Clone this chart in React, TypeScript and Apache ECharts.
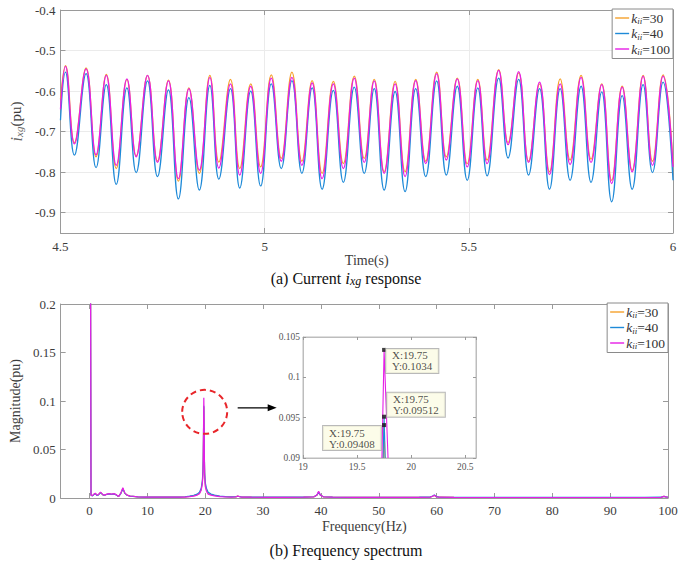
import React, { useEffect, useRef } from 'react';
import * as echarts from 'echarts';

const SERIF = '"Liberation Serif", "Times New Roman", serif';
const AXIS_GRAY = '#9a9a9a';
const LABEL_GRAY = '#3c3c3c';

// Series identities (integral gain k_ii)
const seriesNames = ['k30', 'k40', 'k100'];
const gainValues = ['30', '40', '100'];
const seriesColors = ['#F5A12C', '#1E8AD8', '#E61EE6'];

// (a) Current response: sample instants at the start, every crest / trough, and the end
const sampleTime = [
  4.5, 4.5122, 4.5341, 4.5627, 4.5871, 4.6122, 4.6366, 4.6627, 4.6854, 4.7132, 4.7376,
  4.7644, 4.7888, 4.8146, 4.84, 4.8659, 4.8878, 4.9163, 4.939, 4.9659, 4.9902,
  5.0163, 5.0407, 5.0668, 5.0912, 5.1163, 5.1407, 5.1683, 5.1927, 5.2195, 5.2439,
  5.2683, 5.2927, 5.3195, 5.3439, 5.37, 5.3944, 5.4212, 5.4449, 5.4717, 5.4961,
  5.522, 5.5449, 5.5732, 5.5961, 5.622, 5.6463, 5.6732, 5.6976, 5.7237, 5.748,
  5.7749, 5.7993, 5.8254, 5.8498, 5.8756, 5.9, 5.9268, 5.9498, 5.9756, 6.0,
];
const currentK30 = [
  -0.62, -0.537, -0.727, -0.543, -0.762, -0.559, -0.791, -0.571, -0.76, -0.561, -0.773,
  -0.573, -0.822, -0.592, -0.803, -0.561, -0.775, -0.571, -0.791, -0.582, -0.787,
  -0.56, -0.766, -0.553, -0.773, -0.574, -0.803, -0.576, -0.779, -0.563, -0.766,
  -0.571, -0.799, -0.576, -0.799, -0.571, -0.773, -0.553, -0.762, -0.568, -0.779,
  -0.571, -0.77, -0.547, -0.727, -0.555, -0.773, -0.582, -0.799, -0.57, -0.77,
  -0.561, -0.768, -0.582, -0.82, -0.588, -0.795, -0.561, -0.773, -0.56, -0.78,
];
const currentK40 = [
  -0.672, -0.553, -0.758, -0.557, -0.789, -0.584, -0.83, -0.592, -0.801, -0.575, -0.811,
  -0.597, -0.866, -0.616, -0.844, -0.586, -0.817, -0.594, -0.839, -0.6, -0.834,
  -0.582, -0.791, -0.574, -0.803, -0.592, -0.842, -0.598, -0.825, -0.59, -0.803,
  -0.594, -0.844, -0.601, -0.848, -0.594, -0.811, -0.575, -0.807, -0.588, -0.82,
  -0.592, -0.809, -0.568, -0.765, -0.571, -0.807, -0.594, -0.842, -0.594, -0.82,
  -0.588, -0.825, -0.602, -0.873, -0.611, -0.842, -0.584, -0.801, -0.578, -0.82,
];
const currentK100 = [
  -0.645, -0.539, -0.73, -0.545, -0.757, -0.561, -0.783, -0.57, -0.762, -0.561, -0.776,
  -0.575, -0.816, -0.594, -0.795, -0.566, -0.79, -0.582, -0.807, -0.588, -0.803,
  -0.568, -0.773, -0.566, -0.783, -0.58, -0.816, -0.582, -0.791, -0.568, -0.776,
  -0.575, -0.803, -0.582, -0.811, -0.574, -0.779, -0.557, -0.77, -0.57, -0.787,
  -0.574, -0.779, -0.549, -0.732, -0.552, -0.776, -0.578, -0.806, -0.582, -0.781,
  -0.566, -0.776, -0.584, -0.828, -0.59, -0.799, -0.563, -0.783, -0.563, -0.787,
];

// (b) Frequency spectrum
const freqHz = [
  0, 0.25, 0.5, 0.75, 1.0, 1.25, 1.5, 1.9, 2.3, 2.6, 3.0, 3.4, 3.8, 4.2, 4.6, 5.0, 5.4, 5.75, 6.1, 6.5,
  7.0, 7.5, 8.3, 9.5, 11, 12.5, 14, 15.5, 16.5, 17.3, 18.0, 18.6, 19.0, 19.3, 19.5, 19.6, 19.65, 19.7,
  19.75, 19.8, 19.85, 19.9, 20.0, 20.2, 20.5, 21.0, 21.6, 22.5, 23.5, 24.5, 25.3, 25.6, 26.2, 28, 31,
  34, 37, 38.8, 39.3, 39.6, 39.9, 40.4, 42, 46, 50, 54, 57, 58.9, 59.3, 59.6, 59.9, 60.4, 63, 67, 72,
  77, 82, 87, 92, 96, 98.8, 99.3, 99.6, 100,
];
const magK30 = [
  0.7, 0.0029, 0.0024, 0.0037, 0.0047, 0.0029, 0.0032, 0.0057, 0.0033, 0.0029, 0.0039, 0.0043, 0.0039, 0.0043, 0.0033, 0.0015, 0.0047, 0.0098, 0.0049, 0.0029,
  0.002, 0.0017, 0.0012, 0.0009, 0.0008, 0.0008, 0.0009, 0.0009, 0.0011, 0.0017, 0.0024, 0.0034, 0.005, 0.0088, 0.016, 0.026, 0.04, 0.066,
  0.09408, 0.068, 0.04, 0.024, 0.014, 0.0085, 0.005, 0.0035, 0.0026, 0.0018, 0.0013, 0.0011, 0.0012, 0.0019, 0.001, 0.0008, 0.0007,
  0.0007, 0.0008, 0.0012, 0.0028, 0.006, 0.0028, 0.0012, 0.0008, 0.0006, 0.0006, 0.0006, 0.0007, 0.0009, 0.0018, 0.0027, 0.0015, 0.0008, 0.0006, 0.0005, 0.0005,
  0.0005, 0.0005, 0.0005, 0.0005, 0.0005, 0.0007, 0.0017, 0.0012, 0.0008,
];
const magK40 = [
  0.7, 0.0028, 0.0022, 0.0035, 0.0045, 0.0028, 0.003, 0.0055, 0.0032, 0.0028, 0.0038, 0.0042, 0.0038, 0.0042, 0.0032, 0.0014, 0.0045, 0.0095, 0.0048, 0.0028,
  0.002, 0.0017, 0.0012, 0.001, 0.0009, 0.0009, 0.001, 0.001, 0.0013, 0.002, 0.0028, 0.004, 0.006, 0.01, 0.018, 0.028, 0.042, 0.068,
  0.09512, 0.07, 0.042, 0.026, 0.016, 0.01, 0.006, 0.004, 0.003, 0.002, 0.0015, 0.0012, 0.0013, 0.0018, 0.0011, 0.0009, 0.0008,
  0.0008, 0.0009, 0.0013, 0.003, 0.006, 0.003, 0.0013, 0.0009, 0.0007, 0.0007, 0.0007, 0.0008, 0.001, 0.002, 0.003, 0.0017, 0.0009, 0.0007, 0.0006, 0.0006,
  0.0006, 0.0006, 0.0006, 0.0006, 0.0006, 0.0008, 0.0016, 0.0012, 0.0008,
];
const magK100 = [
  0.7, 0.003, 0.0025, 0.004, 0.005, 0.003, 0.0035, 0.006, 0.0035, 0.003, 0.004, 0.0045, 0.004, 0.0045, 0.0035, 0.0015, 0.005, 0.0105, 0.005, 0.003,
  0.002, 0.0018, 0.0012, 0.0009, 0.0008, 0.0008, 0.0009, 0.0008, 0.001, 0.0015, 0.002, 0.003, 0.0045, 0.008, 0.015, 0.025, 0.04, 0.07,
  0.1034, 0.085, 0.04, 0.022, 0.012, 0.007, 0.004, 0.003, 0.0022, 0.0015, 0.0012, 0.001, 0.0012, 0.002, 0.001, 0.0008, 0.0007,
  0.0007, 0.0008, 0.0012, 0.003, 0.007, 0.003, 0.0012, 0.0008, 0.0006, 0.0006, 0.0006, 0.0007, 0.0009, 0.0018, 0.0028, 0.0015, 0.0008, 0.0006, 0.0005, 0.0005,
  0.0005, 0.0005, 0.0005, 0.0005, 0.0005, 0.0007, 0.0018, 0.0012, 0.0008,
];

// Frequency marked by the data tips in the zoomed view
const markedFreq = 19.75;

const currentSets = [currentK30, currentK40, currentK100];
const magSets = [magK30, magK40, magK100];

const tickStyle = (len: number) => ({ show: true, inside: true, length: len, lineStyle: { color: AXIS_GRAY } });
const axisLine = { show: true, onZero: false, lineStyle: { color: AXIS_GRAY, width: 1 } };
const labelStyle = (size: number, margin: number, extra: object = {}) => ({
  color: LABEL_GRAY, fontSize: size, fontFamily: SERIF, margin, ...extra,
});

function legendFor(right: number, top: number) {
  return {
    data: seriesNames,
    orient: 'vertical',
    right,
    top,
    icon: 'rect',
    itemWidth: 14,
    itemHeight: 1.4,
    itemGap: 1,
    padding: [2, 3, 2, 3],
    backgroundColor: '#ffffff',
    borderColor: '#8a8a8a',
    borderWidth: 1,
    borderRadius: 0,
    selectedMode: false,
    formatter: (name: string) => `{k|k}{s|ii}{t|=${gainValues[seriesNames.indexOf(name)]}}`,
    textStyle: {
      padding: [0, 0, 0, -3],
      rich: {
        k: { fontFamily: SERIF, fontStyle: 'italic', fontSize: 13.5, lineHeight: 15, color: '#333' },
        s: { fontFamily: SERIF, fontStyle: 'italic', fontSize: 9, lineHeight: 9, verticalAlign: 'bottom', color: '#333' },
        t: { fontFamily: SERIF, fontSize: 13.5, lineHeight: 15, color: '#333' },
      },
    },
  };
}

function buildOption() {
  const peakIdx = freqHz.indexOf(markedFreq);
  const tipPoints = magSets.map((m) => [freqHz[peakIdx], m[peakIdx]]);
  // label offsets per data tip: [k30, k40, k100]
  const tipOffsets = [[-59, 3], [5, -22], [4, 1]];

  const series: any[] = [];
  seriesNames.forEach((name, i) => {
    series.push({
      name,
      type: 'line',
      xAxisIndex: 0,
      yAxisIndex: 0,
      data: sampleTime.map((t, j) => [t, currentSets[i][j]]),
      smooth: 0.45,
      symbol: 'none',
      lineStyle: { color: seriesColors[i], width: 1.3 },
      itemStyle: { color: seriesColors[i] },
    });
  });
  seriesNames.forEach((name, i) => {
    series.push({
      name,
      type: 'line',
      xAxisIndex: 2,
      yAxisIndex: 2,
      data: freqHz.map((f, j) => [f, magSets[i][j]]),
      symbol: 'none',
      lineStyle: { color: seriesColors[i], width: 1.2 },
      itemStyle: { color: seriesColors[i] },
    });
  });
  seriesNames.forEach((name, i) => {
    series.push({
      name,
      type: 'line',
      xAxisIndex: 4,
      yAxisIndex: 4,
      data: freqHz.map((f, j) => [f, magSets[i][j]]),
      symbol: 'none',
      clip: true,
      lineStyle: { color: seriesColors[i], width: 1.1 },
      itemStyle: { color: seriesColors[i] },
    });
  });
  series.push({
    name: 'datatip',
    type: 'scatter',
    xAxisIndex: 4,
    yAxisIndex: 4,
    symbol: 'rect',
    symbolSize: 4,
    z: 10,
    itemStyle: { color: '#111' },
    data: tipPoints.map((p, i) => ({
      value: p,
      label: {
        show: true,
        position: tipOffsets[i],
        align: 'left',
        verticalAlign: 'top',
        formatter: () => `X:${p[0]}\nY:${p[1]}`,
        fontFamily: SERIF,
        fontSize: 11,
        lineHeight: 11,
        color: '#222',
        backgroundColor: '#FBFBE3',
        borderColor: '#a8a8a8',
        borderWidth: 1,
        padding: [1, 6, 1, 6],
      },
    })),
  });

  return {
    animation: false,
    backgroundColor: '#ffffff',
    textStyle: { fontFamily: SERIF },
    legend: [legendFor(19, 9), legendFor(24, 303)],
    grid: [
      { left: 58, top: 10, width: 615, height: 223, show: true, borderColor: AXIS_GRAY, borderWidth: 0 },
      { left: 55, top: 304, width: 613, height: 194, show: true, borderColor: AXIS_GRAY, borderWidth: 0 },
      { left: 303, top: 337, width: 173, height: 121, show: true, backgroundColor: '#ffffff', borderColor: '#bdbdbd', borderWidth: 1, z: 3 },
    ],
    xAxis: [
      {
        type: 'value', gridIndex: 0, position: 'bottom', min: 4.5, max: 6, interval: 0.5,
        axisLine, axisTick: tickStyle(5), axisLabel: labelStyle(13, 7),
        splitLine: { show: true, lineStyle: { color: '#ebebeb' } },
        name: 'Time(s)', nameLocation: 'middle', nameGap: 17,
        nameTextStyle: { color: LABEL_GRAY, fontSize: 14, fontFamily: SERIF },
      },
      {
        type: 'value', gridIndex: 0, position: 'top', min: 4.5, max: 6, interval: 0.5,
        axisLine, axisTick: tickStyle(5), axisLabel: { show: false }, splitLine: { show: false },
      },
      {
        type: 'value', gridIndex: 1, position: 'bottom', min: -5, max: 100, minInterval: 10, maxInterval: 10,
        axisLine, axisTick: tickStyle(5), axisLabel: labelStyle(13, 6, { showMinLabel: false }),
        splitLine: { show: false },
        name: 'Frequency(Hz)', nameLocation: 'middle', nameGap: 21,
        nameTextStyle: { color: LABEL_GRAY, fontSize: 14, fontFamily: SERIF },
      },
      {
        type: 'value', gridIndex: 1, position: 'top', min: -5, max: 100, minInterval: 10, maxInterval: 10,
        axisLine, axisTick: tickStyle(5), axisLabel: { show: false }, splitLine: { show: false },
      },
      {
        type: 'value', gridIndex: 2, position: 'bottom', min: 19, max: 20.6, minInterval: 0.5, maxInterval: 0.5,
        axisLine: { show: true, onZero: false, lineStyle: { color: '#bdbdbd' } },
        axisTick: tickStyle(3), axisLabel: labelStyle(9.5, 4, { showMaxLabel: false, color: '#555' }),
        splitLine: { show: false }, z: 4,
      },
      {
        type: 'value', gridIndex: 2, position: 'top', min: 19, max: 20.6, minInterval: 0.5, maxInterval: 0.5,
        axisLine: { show: true, onZero: false, lineStyle: { color: '#bdbdbd' } },
        axisTick: tickStyle(3), axisLabel: { show: false }, splitLine: { show: false }, z: 4,
      },
    ],
    yAxis: [
      {
        type: 'value', gridIndex: 0, position: 'left', min: -0.95, max: -0.4, minInterval: 0.1, maxInterval: 0.1,
        axisLine, axisTick: tickStyle(5), axisLabel: labelStyle(13, 5, { showMinLabel: false }),
        splitLine: { show: true, lineStyle: { color: '#ebebeb' } },
        name: '{i|i}{s|xg}{p|(pu)}', nameLocation: 'middle', nameGap: 32,
        nameTextStyle: {
          color: LABEL_GRAY,
          fontSize: 14,
          fontFamily: SERIF,
          rich: {
            i: { fontFamily: SERIF, fontStyle: 'italic', fontSize: 16, lineHeight: 16, color: '#666' },
            s: { fontFamily: SERIF, fontStyle: 'italic', fontSize: 11, lineHeight: 11, verticalAlign: 'bottom', color: '#666' },
            p: { fontFamily: SERIF, fontSize: 15, lineHeight: 16, color: LABEL_GRAY },
          },
        },
      },
      {
        type: 'value', gridIndex: 0, position: 'right', min: -0.95, max: -0.4, minInterval: 0.1, maxInterval: 0.1,
        axisLine, axisTick: tickStyle(5), axisLabel: { show: false }, splitLine: { show: false },
      },
      {
        type: 'value', gridIndex: 1, position: 'left', min: 0, max: 0.2, interval: 0.05,
        axisLine, axisTick: tickStyle(5), axisLabel: labelStyle(13, 5),
        splitLine: { show: false },
        name: 'Magnitude(pu)', nameLocation: 'middle', nameGap: 31,
        nameTextStyle: { color: LABEL_GRAY, fontSize: 14, fontFamily: SERIF },
      },
      {
        type: 'value', gridIndex: 1, position: 'right', min: 0, max: 0.2, interval: 0.05,
        axisLine, axisTick: tickStyle(5), axisLabel: { show: false }, splitLine: { show: false },
      },
      {
        type: 'value', gridIndex: 2, position: 'left', min: 0.09, max: 0.105, interval: 0.005,
        axisLine: { show: true, onZero: false, lineStyle: { color: '#bdbdbd' } },
        axisTick: tickStyle(3), axisLabel: labelStyle(9.5, 3, { color: '#555' }),
        splitLine: { show: false }, z: 4,
      },
      {
        type: 'value', gridIndex: 2, position: 'right', min: 0.09, max: 0.105, interval: 0.005,
        axisLine: { show: true, onZero: false, lineStyle: { color: '#bdbdbd' } },
        axisTick: tickStyle(3), axisLabel: { show: false }, splitLine: { show: false }, z: 4,
      },
    ],
    series,
  };
}

export default function App() {
  const ref = useRef<HTMLDivElement>(null);

  useEffect(() => {
    if (!ref.current) return;
    const chart = echarts.init(ref.current, undefined, { renderer: 'svg' });
    chart.setOption(buildOption() as any);

    // Highlight ring around the 19.75 Hz peak and the arrow pointing to the zoomed view
    const c = chart.convertToPixel({ xAxisIndex: 2, yAxisIndex: 2 } as any, [19.9, 0.0888]) as number[];
    const cx = c[0];
    const cy = c[1];
    const arrowY = cy - 4;
    chart.setOption({
      graphic: [
        {
          type: 'ellipse',
          shape: { cx, cy, rx: 22.5, ry: 22 },
          style: { fill: 'none', stroke: '#E8262A', lineWidth: 2, lineDash: [6, 4] },
          z: 20,
        },
        {
          type: 'line',
          shape: { x1: cx + 33, y1: arrowY, x2: cx + 66, y2: arrowY },
          style: { stroke: '#000', lineWidth: 1.2 },
          z: 20,
        },
        {
          type: 'polygon',
          shape: { points: [[cx + 72, arrowY], [cx + 63, arrowY - 3.5], [cx + 63, arrowY + 3.5]] },
          style: { fill: '#000' },
          z: 20,
        },
        {
          type: 'text',
          x: 346,
          y: 278,
          z: 20,
          style: {
            text: '(a) Current {i|i}{s|xg} response',
            align: 'center',
            verticalAlign: 'middle',
            fontFamily: SERIF,
            fontSize: 16,
            fill: '#111',
            rich: {
              i: { fontFamily: SERIF, fontStyle: 'italic', fontSize: 17, lineHeight: 17, fill: '#111' },
              s: { fontFamily: SERIF, fontStyle: 'italic', fontSize: 12, lineHeight: 12, verticalAlign: 'bottom', fill: '#111' },
            },
          },
        },
        {
          type: 'text',
          x: 346,
          y: 550,
          z: 20,
          style: {
            text: '(b) Frequency spectrum',
            align: 'center',
            verticalAlign: 'middle',
            fontFamily: SERIF,
            fontSize: 16,
            fill: '#111',
          },
        },
      ],
    } as any);

    return () => chart.dispose();
  }, []);

  return (
    <div
      ref={ref}
      style={{ position: 'absolute', left: 0, top: 0, width: 692, height: 568, background: '#fff' }}
    />
  );
}
